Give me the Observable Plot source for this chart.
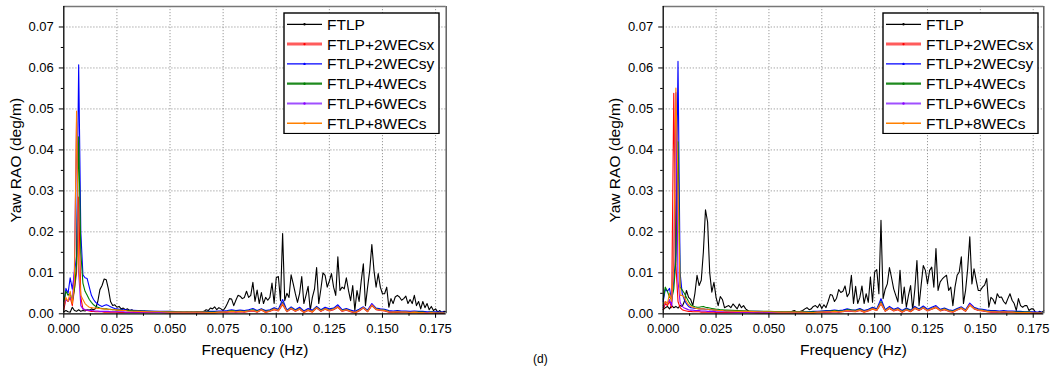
<!DOCTYPE html>
<html><head><meta charset="utf-8">
<script src="https://cdn.jsdelivr.net/npm/d3@7"></script>
<script src="https://cdn.jsdelivr.net/npm/@observablehq/plot@0.6"></script>
<style>
html,body{margin:0;padding:0;background:#fff;overflow:hidden;}
#wrap{position:relative;width:1053px;height:367px;font-family:"Liberation Sans",Arial,sans-serif;}
.panel{position:absolute;top:0;}
.legend{position:absolute;}
.caption{position:absolute;left:533px;top:353px;font-size:12px;line-height:1;}
</style></head><body><div id="wrap"></div>
<script>
// ---------- categories / styling lists ----------
const seriesNames = ["FTLP","FTLP+2WECsx","FTLP+2WECsy","FTLP+4WECs","FTLP+6WECs","FTLP+8WECs"];
const seriesColors = ["#000000","#ff0000","#0000ff","#008000","#8b00ff","#ff8000"];
const xTicks = [0, 0.025, 0.05, 0.075, 0.1, 0.125, 0.15, 0.175];
const xMinor = [0.0125, 0.0375, 0.0625, 0.0875, 0.1125, 0.1375, 0.1625];
const yTicks = [0, 0.01, 0.02, 0.03, 0.04, 0.05, 0.06, 0.07];
const yMinor = [0.005, 0.015, 0.025, 0.035, 0.045, 0.055, 0.065];
const xDomain = [0, 0.18];
const yDomain = [0, 0.075];
const xTitle = "Frequency (Hz)";
const yTitle = "Yaw RAO (deg/m)";
const captionText = "(d)";

// frequency sampling grids (Hz)
const ftlpFreq = d3.range(0, 181).map(i => i / 1000);
const wecFreq = [...d3.range(0, 31).map(i => i / 1000), ...d3.range(35, 70, 5).map(i => i / 1000), ...d3.range(69, 181, 2).map(i => i / 1000)];

// ---------- LEFT panel values ----------
const leftFTLP = [
.0005,.0008,.0005,.0004,.0016,.0008,.0006,.0010,.0006,.0008,
.0007,.0010,.0009,.0012,.0010,.0013,.0030,.0059,.0069,.0085,
.0083,.0060,.0030,.0020,.0022,.0016,.0018,.0012,.0014,.0010,
.0012,.0008,.0010,.0007,.0008,.0006,.0007,.0005,.0006,.0005,
.0005,.0004,.0005,.0004,.0004,.0005,.0004,.0004,.0004,.0003,
.0004,.0003,.0004,.0003,.0003,.0004,.0003,.0003,.0004,.0003,
.0004,.0003,.0004,.0005,.0004,.0005,.0006,.0010,.0008,.0014,
.0012,.0017,.0010,.0015,.0012,.0008,.0015,.0025,.0037,.0036,
.0020,.0033,.0045,.0043,.0037,.0040,.0055,.0040,.0045,.0077,
.0030,.0058,.0025,.0052,.0025,.0040,.0033,.0040,.0075,.0025,
.0088,.0091,.0032,.0196,.0032,.0050,.0040,.0095,.0073,.0049,
.0028,.0050,.0091,.0025,.0045,.0067,.0008,.0040,.0060,.0113,
.0025,.0060,.0100,.0094,.0065,.0080,.0098,.0065,.0045,.0139,
.0057,.0065,.0061,.0088,.0057,.0032,.0069,.0008,.0057,.0030,
.0080,.0122,.0020,.0065,.0106,.0169,.0106,.0065,.0098,.0065,
.0049,.0049,.0065,.0016,.0037,.0025,.0041,.0045,.0041,.0033,
.0037,.0043,.0025,.0035,.0025,.0045,.0020,.0030,.0012,.0030,
.0015,.0025,.0010,.0018,.0008,.0012,.0004,.0008,.0003,.0006,.0005];
const leftSx = [
.0010,.0035,.0030,.0040,.0020,.0060,.0100,.0285,.0040,.0012,.0010,.0008,.0007,.0006,.0006,.0005,
.0005,.0005,.0005,.0004,.0004,.0004,.0004,.0004,.0004,.0004,.0003,.0003,.0003,.0003,.0003,
.0003,.0003,.0003,.0002,.0002,.0002,.0002,
.0002,.0002,.0003,.0003,.0004,.0005,.0004,.0005,.0004,.0006,.0007,.0004,.0009,.0003,.0006,.0010,
.0007,.0022,.0005,.0012,.0006,.0011,.0003,.0008,.0004,.0014,.0006,.0011,.0007,.0010,.0016,.0006,
.0009,.0005,.0002,.0007,.0014,.0005,.0020,.0010,.0008,.0007,.0004,.0003,.0004,.0003,.0003,.0002,
.0003,.0002,.0002,.0002,.0002,.0002,.0001,.0001];
const leftSy = [
.0020,.0062,.0050,.0088,.0060,.0100,.0140,.0608,.0200,.0095,.0088,.0086,.0065,.0045,.0035,.0028,
.0024,.0020,.0018,.0020,.0022,.0020,.0017,.0015,.0013,.0012,.0011,.0011,.0010,.0010,.0009,
.0008,.0007,.0006,.0006,.0005,.0005,.0005,
.0006,.0006,.0007,.0007,.0008,.0010,.0008,.0009,.0008,.0010,.0013,.0008,.0012,.0008,.0010,.0015,
.0011,.0035,.0009,.0017,.0010,.0016,.0007,.0013,.0009,.0018,.0010,.0016,.0012,.0014,.0022,.0010,
.0013,.0009,.0006,.0011,.0017,.0009,.0025,.0014,.0012,.0011,.0008,.0007,.0008,.0007,.0007,.0006,
.0007,.0006,.0006,.0005,.0005,.0005,.0004,.0004];
const left4 = [
.0030,.0055,.0045,.0050,.0030,.0060,.0120,.0432,.0150,.0075,.0055,.0045,.0035,.0028,.0022,.0018,
.0016,.0014,.0013,.0012,.0012,.0011,.0011,.0010,.0010,.0009,.0009,.0009,.0008,.0008,.0008,
.0007,.0006,.0005,.0005,.0004,.0004,.0004,
.0004,.0004,.0005,.0005,.0006,.0008,.0006,.0007,.0006,.0008,.0010,.0006,.0011,.0006,.0008,.0013,
.0009,.0028,.0007,.0014,.0008,.0013,.0005,.0010,.0007,.0016,.0008,.0013,.0009,.0012,.0018,.0008,
.0011,.0007,.0004,.0009,.0015,.0007,.0022,.0012,.0010,.0009,.0006,.0005,.0006,.0005,.0005,.0004,
.0005,.0004,.0004,.0003,.0004,.0003,.0003,.0003];
const left6 = [
.0020,.0035,.0030,.0040,.0030,.0110,.0470,.0100,.0020,.0012,.0010,.0009,.0008,.0008,.0007,.0007,
.0007,.0006,.0006,.0006,.0006,.0006,.0005,.0005,.0005,.0005,.0005,.0005,.0005,.0004,.0004,
.0004,.0004,.0003,.0003,.0003,.0003,.0003,
.0003,.0003,.0004,.0004,.0005,.0006,.0005,.0006,.0005,.0007,.0008,.0005,.0010,.0005,.0007,.0012,
.0008,.0026,.0006,.0013,.0007,.0012,.0005,.0009,.0006,.0015,.0007,.0012,.0008,.0011,.0018,.0007,
.0010,.0006,.0004,.0008,.0015,.0006,.0023,.0011,.0009,.0008,.0005,.0005,.0005,.0004,.0004,.0004,
.0004,.0003,.0003,.0003,.0003,.0002,.0002,.0002];
const left8 = [
.0020,.0040,.0030,.0055,.0025,.0080,.0495,.0120,.0045,.0035,.0025,.0020,.0016,.0015,.0014,.0014,
.0013,.0013,.0012,.0012,.0011,.0011,.0010,.0010,.0010,.0009,.0009,.0008,.0008,.0008,.0007,
.0006,.0005,.0005,.0004,.0004,.0004,.0004,
.0003,.0003,.0004,.0004,.0005,.0006,.0005,.0006,.0005,.0007,.0008,.0005,.0010,.0004,.0007,.0011,
.0008,.0024,.0006,.0013,.0007,.0012,.0004,.0009,.0005,.0015,.0007,.0012,.0008,.0011,.0017,.0007,
.0010,.0006,.0003,.0008,.0015,.0006,.0021,.0011,.0009,.0008,.0005,.0004,.0005,.0004,.0004,.0003,
.0004,.0003,.0003,.0002,.0003,.0002,.0002,.0002];

// ---------- RIGHT panel values ----------
const rightFTLP = [
.0010,.0015,.0018,.0012,.0020,.0015,.0018,.0014,.0020,.0018,
.0030,.0057,.0040,.0035,.0020,.0050,.0094,.0069,.0082,.0151,
.0254,.0224,.0100,.0053,.0077,.0040,.0020,.0042,.0035,.0015,
.0018,.0020,.0015,.0024,.0018,.0012,.0024,.0015,.0020,.0012,
.0008,.0004,.0005,.0004,.0003,.0004,.0003,.0003,.0004,.0003,
.0003,.0003,.0004,.0003,.0003,.0003,.0004,.0003,.0003,.0004,
.0004,.0006,.0008,.0005,.0004,.0006,.0008,.0012,.0015,.0010,
.0012,.0018,.0020,.0015,.0024,.0013,.0022,.0015,.0030,.0047,
.0045,.0030,.0038,.0059,.0052,.0055,.0068,.0042,.0050,.0094,
.0025,.0067,.0025,.0040,.0068,.0025,.0049,.0028,.0090,.0028,
.0102,.0108,.0049,.0228,.0037,.0060,.0073,.0113,.0088,.0061,
.0045,.0029,.0106,.0025,.0065,.0016,.0045,.0069,.0008,.0060,
.0130,.0020,.0070,.0118,.0106,.0073,.0106,.0114,.0065,.0159,
.0057,.0078,.0085,.0090,.0094,.0057,.0065,.0020,.0065,.0094,
.0102,.0139,.0025,.0057,.0110,.0188,.0073,.0110,.0082,.0057,
.0057,.0065,.0070,.0086,.0016,.0040,.0035,.0024,.0049,.0040,
.0041,.0030,.0024,.0037,.0049,.0033,.0025,.0008,.0037,.0020,
.0016,.0020,.0020,.0008,.0012,.0012,.0004,.0002,.0006,.0003,.0008];
const rightSx = [
.0010,.0025,.0020,.0030,.0015,.0538,.0120,.0030,.0015,.0010,.0008,.0007,.0006,.0006,.0005,.0005,
.0005,.0005,.0004,.0004,.0004,.0004,.0004,.0004,.0004,.0003,.0003,.0003,.0003,.0003,.0003,
.0003,.0003,.0002,.0002,.0002,.0002,.0002,
.0002,.0002,.0003,.0003,.0004,.0004,.0005,.0004,.0005,.0007,.0006,.0005,.0008,.0004,.0007,.0011,
.0008,.0024,.0006,.0013,.0007,.0010,.0004,.0009,.0005,.0013,.0008,.0014,.0007,.0011,.0015,.0007,
.0010,.0006,.0004,.0009,.0013,.0006,.0021,.0012,.0008,.0007,.0005,.0004,.0004,.0003,.0004,.0003,
.0003,.0002,.0002,.0002,.0002,.0002,.0001,.0001];
const rightSy = [
.0030,.0060,.0055,.0062,.0030,.0080,.0150,.0616,.0100,.0049,.0035,.0024,.0018,.0015,.0014,.0013,
.0013,.0012,.0012,.0012,.0011,.0011,.0010,.0010,.0009,.0009,.0009,.0008,.0008,.0008,.0007,
.0007,.0006,.0006,.0005,.0005,.0005,.0005,
.0005,.0006,.0006,.0007,.0008,.0008,.0009,.0008,.0009,.0012,.0010,.0009,.0013,.0008,.0011,.0016,
.0012,.0037,.0010,.0018,.0011,.0015,.0008,.0014,.0009,.0018,.0012,.0019,.0011,.0016,.0020,.0011,
.0014,.0010,.0008,.0013,.0017,.0010,.0026,.0016,.0012,.0011,.0009,.0008,.0008,.0007,.0008,.0007,
.0007,.0006,.0006,.0005,.0005,.0005,.0004,.0004];
const right4 = [
.0035,.0065,.0055,.0040,.0035,.0060,.0130,.0420,.0065,.0058,.0050,.0040,.0030,.0022,.0019,.0017,
.0016,.0016,.0017,.0018,.0016,.0015,.0014,.0013,.0012,.0011,.0011,.0010,.0010,.0009,.0009,
.0008,.0007,.0006,.0006,.0005,.0005,.0005,
.0004,.0005,.0005,.0006,.0006,.0007,.0008,.0007,.0007,.0010,.0009,.0008,.0011,.0007,.0009,.0014,
.0010,.0030,.0008,.0015,.0009,.0013,.0006,.0012,.0008,.0016,.0010,.0016,.0009,.0013,.0017,.0009,
.0012,.0008,.0006,.0011,.0015,.0008,.0023,.0014,.0010,.0009,.0007,.0006,.0006,.0005,.0006,.0005,
.0005,.0004,.0004,.0004,.0004,.0003,.0003,.0003];
const right6 = [
.0015,.0030,.0025,.0035,.0020,.0130,.0540,.0080,.0028,.0018,.0014,.0012,.0010,.0009,.0009,.0008,
.0008,.0008,.0007,.0007,.0007,.0006,.0006,.0006,.0006,.0005,.0005,.0005,.0005,.0005,.0005,
.0004,.0004,.0004,.0003,.0003,.0003,.0003,
.0003,.0003,.0004,.0004,.0005,.0005,.0006,.0005,.0006,.0008,.0007,.0006,.0009,.0006,.0008,.0013,
.0009,.0027,.0007,.0014,.0008,.0012,.0005,.0010,.0007,.0015,.0009,.0015,.0008,.0012,.0017,.0008,
.0011,.0007,.0005,.0010,.0014,.0007,.0024,.0013,.0009,.0008,.0006,.0005,.0005,.0004,.0005,.0004,
.0004,.0003,.0003,.0003,.0003,.0002,.0002,.0002];
const right8 = [
.0020,.0030,.0025,.0050,.0030,.0120,.0551,.0320,.0045,.0045,.0040,.0030,.0022,.0018,.0016,.0014,
.0013,.0012,.0012,.0012,.0011,.0011,.0010,.0010,.0009,.0009,.0008,.0008,.0008,.0007,.0007,
.0006,.0006,.0005,.0005,.0004,.0004,.0004,
.0003,.0003,.0004,.0004,.0005,.0005,.0006,.0005,.0006,.0008,.0007,.0006,.0009,.0005,.0008,.0012,
.0009,.0026,.0007,.0014,.0008,.0011,.0005,.0010,.0006,.0014,.0009,.0015,.0008,.0012,.0016,.0008,
.0011,.0007,.0005,.0010,.0014,.0007,.0022,.0013,.0009,.0008,.0006,.0005,.0005,.0004,.0005,.0004,
.0004,.0003,.0003,.0003,.0003,.0002,.0002,.0002];

// ---------- build ----------
function rowsFor(ftlp, sx, sy, w4, w6, w8) {
  const rows = [];
  ftlp.forEach((v, i) => rows.push({f: ftlpFreq[i], v, s: seriesNames[0]}));
  [sx, sy, w4, w6, w8].forEach((arr, k) => {
    arr.forEach((v, i) => { if (i < wecFreq.length) rows.push({f: wecFreq[i], v, s: seriesNames[k + 1]}); });
  });
  return rows;
}

const font = '"Liberation Sans", Arial, sans-serif';

function panel(rows, width, mL, mR) {
  return Plot.plot({
    width, height: 367,
    marginLeft: mL, marginRight: mR, marginTop: 6, marginBottom: 53.7,
    x: {domain: xDomain},
    y: {domain: yDomain},
    color: {domain: seriesNames, range: seriesColors},
    style: {fontFamily: font, fontSize: "13px", background: "transparent", color: "#000", overflow: "visible"},
    marks: [
      Plot.gridX(xTicks.slice(1), {stroke: "#9a9a9a", strokeOpacity: 1, strokeDasharray: "1.2,1.8", strokeWidth: 1}),
      Plot.gridY(yTicks.slice(1), {stroke: "#9a9a9a", strokeOpacity: 1, strokeDasharray: "1.2,1.8", strokeWidth: 1}),
      Plot.line(rows, {x: "f", y: "v", z: "s", stroke: "s", strokeWidth: 1.1}),
      Plot.ruleX([xDomain[1]], {stroke: "#555", strokeWidth: 1.4}),
      Plot.ruleY([yDomain[1]], {stroke: "#777", strokeWidth: 1.4}),
      Plot.ruleX([xDomain[0]], {stroke: "#000", strokeWidth: 1.3}),
      Plot.ruleY([yDomain[0]], {stroke: "#000", strokeWidth: 1.3}),
      Plot.axisX(xMinor, {tickSize: 2.5, tickFormat: () => "", label: null, strokeWidth: 1}),
      Plot.axisX(xTicks, {tickSize: 4.5, tickPadding: 5, tickFormat: d3.format(".3f"), label: null, strokeWidth: 1}),
      Plot.axisY(yMinor, {tickSize: 2.5, tickFormat: () => "", label: null, strokeWidth: 1}),
      Plot.axisY(yTicks, {tickSize: 4.5, tickPadding: 5.5, tickFormat: d3.format(".2f"), label: null, strokeWidth: 1}),
      Plot.text([yTitle], {text: d => d, frameAnchor: "left", rotate: -90, dx: -48, fontSize: 15.5, textAnchor: "middle"}),
      Plot.text([xTitle], {text: d => d, frameAnchor: "bottom", dy: 41, fontSize: 15.5, textAnchor: "middle"})
    ]
  });
}

function legend(left, top) {
  const w = 155, h = 120.6, rowH = 19.8;
  const svg = d3.create("svg").attr("class", "legend").attr("width", w + 2).attr("height", h + 2)
    .style("left", (left - 1) + "px").style("top", (top - 1) + "px");
  svg.append("rect").attr("x", 1).attr("y", 1).attr("width", w).attr("height", h)
    .attr("fill", "#fff").attr("stroke", "#000").attr("stroke-width", 1.4);
  const sampleW = [1.2, 3, 1.3, 2.2, 2.2, 1.6];
  const sampleC = ["#000", "#ff5c5c", "#0000ff", "#1f8a1f", "#a050ff", "#ff8000"];
  seriesNames.forEach((name, i) => {
    const y = 1 + 11.3 + i * rowH;
    svg.append("line").attr("x1", 4).attr("x2", 39).attr("y1", y).attr("y2", y)
      .attr("stroke", sampleC[i]).attr("stroke-width", sampleW[i]);
    svg.append("circle").attr("cx", 21.5).attr("cy", y).attr("r", 1.2).attr("fill", seriesColors[i]);
    svg.append("text").attr("x", 44).attr("y", y).attr("dy", "0.36em")
      .attr("font-family", font).attr("font-size", 15.5).attr("fill", "#000").text(name);
  });
  return svg.node();
}

const wrap = document.getElementById("wrap");

const leftPlot = panel(rowsFor(leftFTLP, leftSx, leftSy, left4, left6, left8), 460, 63.3, 14.3);
leftPlot.classList.add("panel");
leftPlot.style.left = "0px";
wrap.appendChild(leftPlot);

const rightPlot = panel(rowsFor(rightFTLP, rightSx, rightSy, right4, right6, right8), 456, 65.7, 9.7);
rightPlot.classList.add("panel");
rightPlot.style.left = "597px";
wrap.appendChild(rightPlot);

wrap.appendChild(legend(284, 12.7));
wrap.appendChild(legend(882.7, 12.7));

const cap = document.createElement("div");
cap.className = "caption";
cap.textContent = captionText;
wrap.appendChild(cap);
</script>
</body></html>
